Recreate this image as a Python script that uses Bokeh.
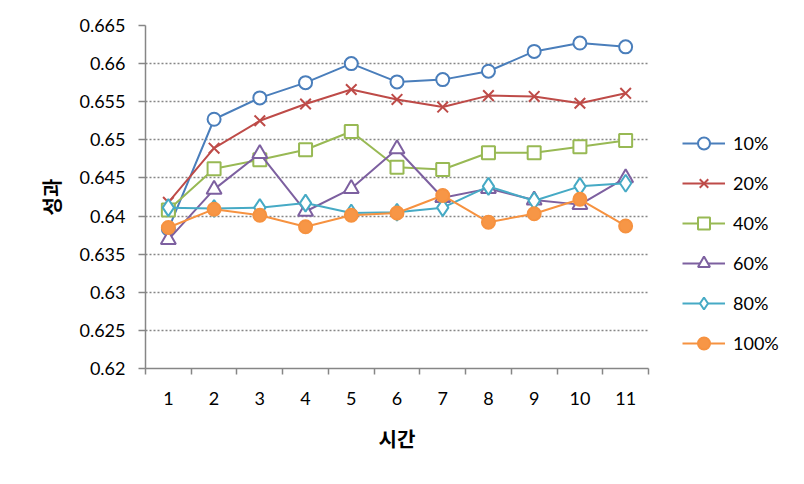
from bokeh.plotting import figure
from bokeh.models import Legend, LegendItem, FixedTicker, Range1d
from bokeh.embed import file_html
from bokeh.resources import INLINE

x = [1, 2, 3, 4, 5, 6, 7, 8, 9, 10, 11]
tick_labels = {i: str(i) for i in x}
names = ["10%", "20%", "40%", "60%", "80%", "100%"]
s10 = [0.6383, 0.6527, 0.6555, 0.6575, 0.6600, 0.6576, 0.6579, 0.6590, 0.6616, 0.6627, 0.6622]
s20 = [0.6418, 0.6489, 0.6525, 0.6547, 0.6566, 0.6553, 0.6543, 0.6558, 0.6557, 0.6548, 0.6561]
s40 = [0.6408, 0.6462, 0.6474, 0.6487, 0.6511, 0.6464, 0.6461, 0.6483, 0.6483, 0.6491, 0.6499]
s60 = [0.6369, 0.6435, 0.6482, 0.6406, 0.6436, 0.6488, 0.6424, 0.6436, 0.6421, 0.6415, 0.6450]
s80 = [0.6411, 0.6410, 0.6411, 0.6417, 0.6404, 0.6405, 0.6411, 0.6439, 0.6420, 0.6439, 0.6443]
s100 = [0.6385, 0.6409, 0.6401, 0.6386, 0.6401, 0.6404, 0.6427, 0.6392, 0.6403, 0.6422, 0.6387]
y_ticks = [0.62, 0.625, 0.63, 0.635, 0.64, 0.645, 0.65, 0.655, 0.66, 0.665]
y_tick_labels = {0.62: "0.62", 0.625: "0.625", 0.63: "0.63", 0.635: "0.635", 0.64: "0.64",
                 0.645: "0.645", 0.65: "0.65", 0.655: "0.655", 0.66: "0.66", 0.665: "0.665"}

series = [s10, s20, s40, s60, s80, s100]
line_colors = ["#4A7EBB", "#BE4B48", "#98B954", "#7D60A0", "#46AAC5", "#F69240"]
markers = ["circle", "x", "square", "triangle", "diamond", "circle"]
fills = ["white", None, "white", "white", "white", "#F79646"]
sizes = [13, 15, 13, 15, 17, 13]

FONT = "Lato"
KFONT = "Noto Sans CJK KR"

p = figure(frame_width=503, frame_height=343, output_backend="svg", toolbar_location=None,
           x_range=Range1d(0.5, 11.5), y_range=Range1d(0.62, 0.665),
           min_border_left=145, min_border_right=0, min_border_top=25, min_border_bottom=116)
p.outline_line_color = None
p.xgrid.grid_line_color = None
p.ygrid.grid_line_color = "#868686"
p.ygrid.grid_line_dash = "2 2"
p.ygrid.grid_line_width = 1.5
p.ygrid.ticker = FixedTicker(ticks=y_ticks[1:])

p.xaxis.ticker = FixedTicker(ticks=x, minor_ticks=[i + 0.5 for i in range(0, 12)])
p.xaxis.major_label_overrides = tick_labels
p.xaxis.major_tick_line_color = None
p.xaxis.minor_tick_out = 6
p.xaxis.minor_tick_in = 0
p.xaxis.minor_tick_line_color = "#868686"
p.xaxis.minor_tick_line_width = 1.5
p.xaxis.major_label_standoff = 17
p.xaxis.axis_label = "시간"
p.xaxis.axis_label_standoff = 16

p.yaxis.ticker = FixedTicker(ticks=y_ticks, minor_ticks=[])
p.yaxis.major_label_overrides = y_tick_labels
p.yaxis.major_tick_out = 7
p.yaxis.major_tick_in = 0
p.yaxis.major_tick_line_color = "#868686"
p.yaxis.major_tick_line_width = 1.5
p.yaxis.major_label_standoff = 13
p.yaxis.axis_label = "성과"
p.yaxis.axis_label_standoff = 10

for ax in [p.xaxis, p.yaxis]:
    ax.axis_line_color = "#868686"
    ax.axis_line_width = 1.5
    ax.major_label_text_font = FONT
    ax.major_label_text_font_size = "18px"
    ax.major_label_text_color = "black"
    ax.axis_label_text_font = KFONT
    ax.axis_label_text_font_style = "bold"
    ax.axis_label_text_font_size = "20px"
    ax.axis_label_text_color = "black"

items = []
for name, ys, col, mk, fc, sz in zip(names, series, line_colors, markers, fills, sizes):
    r1 = p.line(x, ys, line_color=col, line_width=2)
    r2 = p.scatter(x, ys, marker=mk, size=sz, line_color=col, line_width=2,
                   fill_color=fc if fc else "white", fill_alpha=1 if fc else 0)
    items.append(LegendItem(label=name, renderers=[r1, r2]))

legend = Legend(items=items, location=(34, 10), orientation="vertical")
legend.glyph_width = 43
legend.glyph_height = 30
legend.label_height = 30
legend.spacing = 10
legend.padding = 0
legend.margin = 0
legend.label_standoff = 8
legend.border_line_color = None
legend.background_fill_alpha = 0
legend.label_text_font = FONT
legend.label_text_font_size = "18px"
legend.label_text_color = "black"
p.add_layout(legend, "right")

open("out.html", "w").write(file_html(p, INLINE))
